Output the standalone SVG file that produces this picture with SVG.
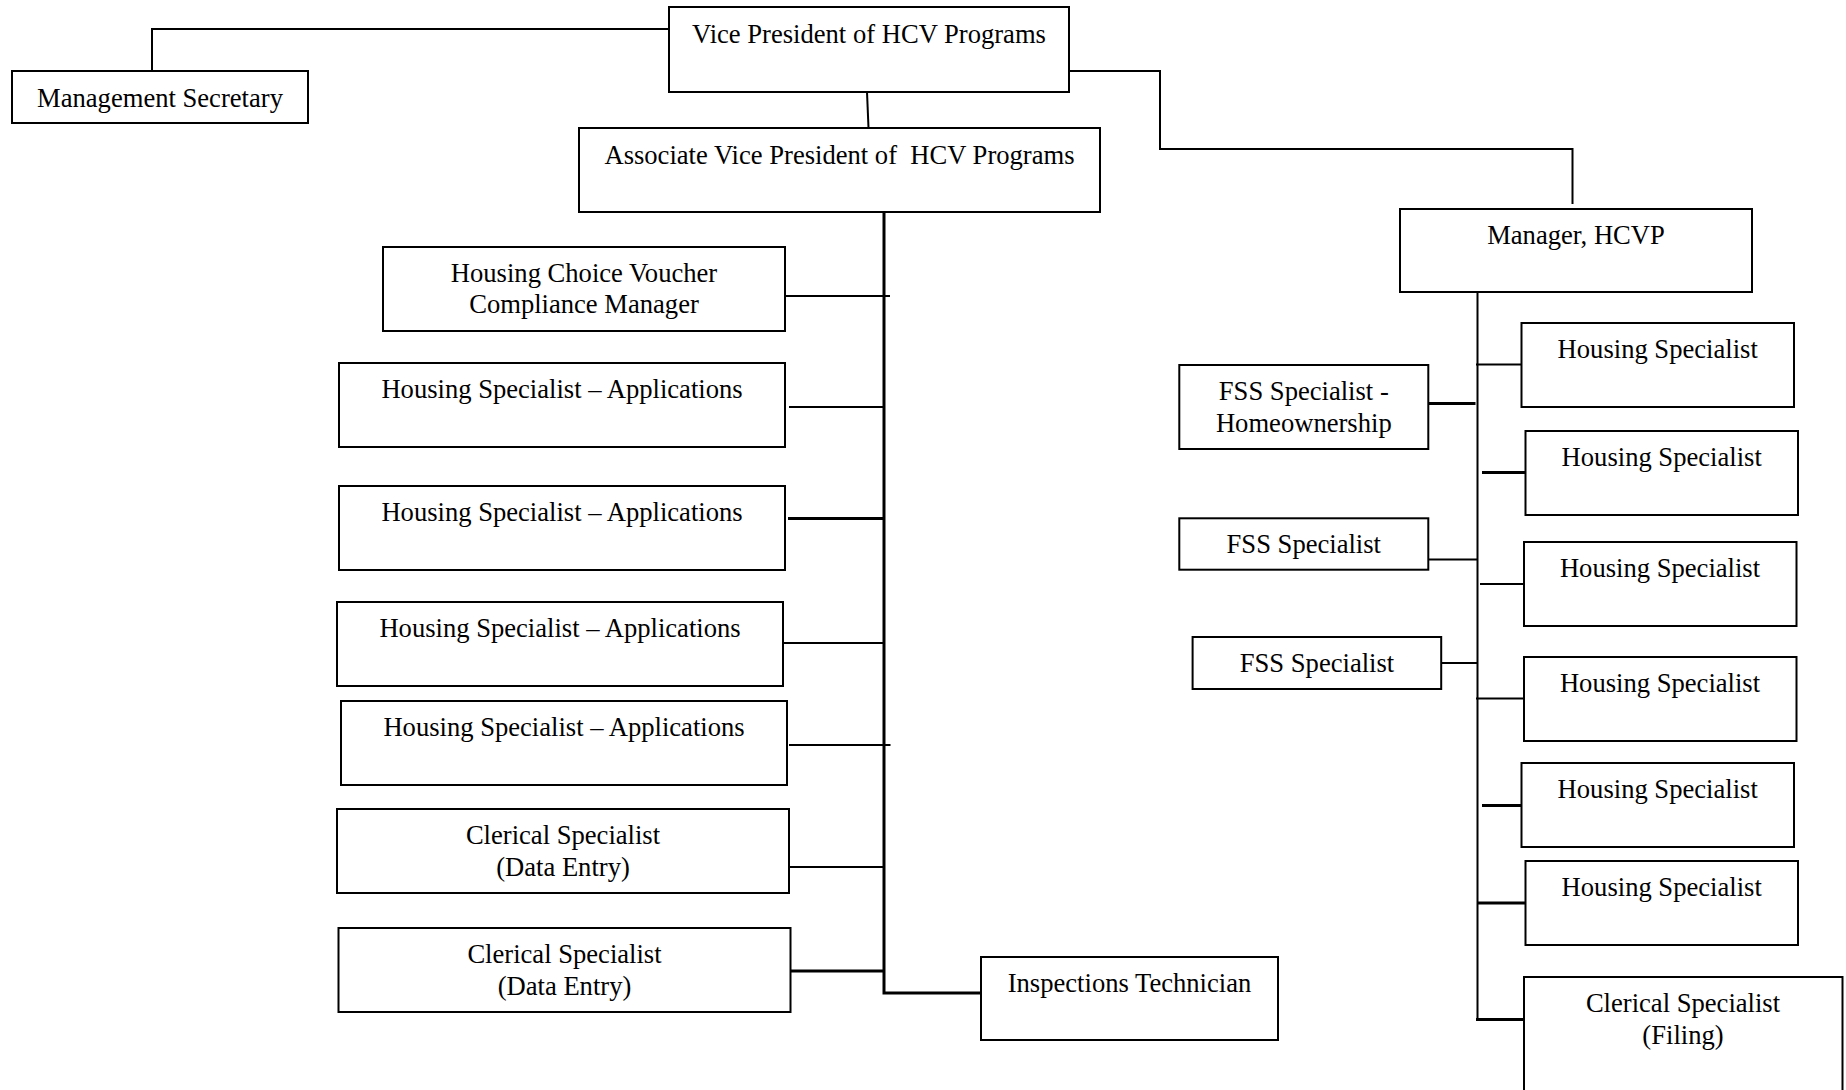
<svg xmlns="http://www.w3.org/2000/svg" width="1846" height="1090" viewBox="0 0 1846 1090">
  <style>
    .box { fill: #ffffff; stroke: #000000; stroke-width: 2; }
    .lbl { font-family: "Liberation Serif", "Times New Roman", serif; font-size: 26.6px; fill: #000000; text-anchor: middle; }
    .ln { fill: none; stroke: #000000; stroke-width: 2; }
    .thick { fill: none; stroke: #000000; stroke-width: 3; }
  </style>
  <rect x="0" y="0" width="1846" height="1090" fill="#ffffff"/>

  <!-- connectors -->
  <g id="connectors">
    <path class="ln" d="M152,71 V29 H669"/>
    <path class="ln" d="M867,92 L868.5,128"/>
    <path class="ln" d="M1069,71 H1160 V149 H1572.5 V204"/>
    <!-- associate VP trunk -->
    <path class="thick" d="M884,212 V993 H981"/>
    <path class="ln" d="M785,296 H890"/>
    <path class="ln" d="M789,407 H884"/>
    <path class="thick" d="M788,518.5 H884"/>
    <path class="ln" d="M783,643 H884"/>
    <path class="ln" d="M789,745 H890.5"/>
    <path class="ln" d="M789,867 H884"/>
    <path class="thick" d="M788,971 H884"/>
    <!-- manager trunk -->
    <path class="ln" d="M1477.5,292 V1020"/>
    <path class="ln" d="M1476,364.5 H1521.5"/>
    <path class="thick" d="M1428,403.5 H1475.5"/>
    <path class="thick" d="M1482,472.5 H1525.5"/>
    <path class="ln" d="M1428,559.5 H1477.5"/>
    <path class="ln" d="M1480,584 H1524"/>
    <path class="ln" d="M1441,663 H1477.5"/>
    <path class="ln" d="M1476,698.5 H1524"/>
    <path class="thick" d="M1482,805.5 H1521.5"/>
    <path class="thick" d="M1477.5,903 H1525.5"/>
    <path class="thick" d="M1476,1019.5 H1524"/>
  </g>

  <g id="mgmt-secretary">
    <rect class="box" x="12" y="71" width="296" height="52"/>
    <text class="lbl" x="160" y="107">Management Secretary</text>
  </g>
  <g id="vp">
    <rect class="box" x="669" y="7" width="400" height="85"/>
    <text class="lbl" x="869" y="43">Vice President of HCV Programs</text>
  </g>
  <g id="avp">
    <rect class="box" x="579" y="128" width="521" height="84"/>
    <text class="lbl" x="839.5" y="164" xml:space="preserve">Associate Vice President of  HCV Programs</text>
  </g>
  <g id="manager">
    <rect class="box" x="1400" y="209" width="352" height="83"/>
    <text class="lbl" x="1576" y="244">Manager, HCVP</text>
  </g>

  <g id="compliance-manager">
    <rect class="box" x="383" y="247" width="402" height="84"/>
    <text class="lbl" x="584" y="282">Housing Choice Voucher</text>
    <text class="lbl" x="584" y="313">Compliance Manager</text>
  </g>
  <g id="hs-app-1">
    <rect class="box" x="339" y="363" width="446" height="84"/>
    <text class="lbl" x="562" y="398">Housing Specialist – Applications</text>
  </g>
  <g id="hs-app-2">
    <rect class="box" x="339" y="486" width="446" height="84"/>
    <text class="lbl" x="562" y="521">Housing Specialist – Applications</text>
  </g>
  <g id="hs-app-3">
    <rect class="box" x="337" y="602" width="446" height="84"/>
    <text class="lbl" x="560" y="637">Housing Specialist – Applications</text>
  </g>
  <g id="hs-app-4">
    <rect class="box" x="341" y="701" width="446" height="84"/>
    <text class="lbl" x="564" y="736">Housing Specialist – Applications</text>
  </g>
  <g id="clerical-data-1">
    <rect class="box" x="337" y="809" width="452" height="84"/>
    <text class="lbl" x="563" y="844">Clerical Specialist</text>
    <text class="lbl" x="563" y="875.5">(Data Entry)</text>
  </g>
  <g id="clerical-data-2">
    <rect class="box" x="338.5" y="928" width="452" height="84"/>
    <text class="lbl" x="564.5" y="963">Clerical Specialist</text>
    <text class="lbl" x="564.5" y="995">(Data Entry)</text>
  </g>
  <g id="inspections">
    <rect class="box" x="981" y="957" width="297" height="83"/>
    <text class="lbl" x="1129.5" y="992">Inspections Technician</text>
  </g>

  <g id="fss-home">
    <rect class="box" x="1179.3" y="365" width="249" height="84"/>
    <text class="lbl" x="1303.8" y="400">FSS Specialist -</text>
    <text class="lbl" x="1303.8" y="432">Homeownership</text>
  </g>
  <g id="fss-1">
    <rect class="box" x="1179.3" y="518.3" width="249" height="51.4"/>
    <text class="lbl" x="1303.8" y="553">FSS Specialist</text>
  </g>
  <g id="fss-2">
    <rect class="box" x="1192.6" y="637" width="248.6" height="52"/>
    <text class="lbl" x="1317" y="672">FSS Specialist</text>
  </g>

  <g id="hs-1">
    <rect class="box" x="1521.5" y="323" width="272.5" height="84"/>
    <text class="lbl" x="1657.7" y="358">Housing Specialist</text>
  </g>
  <g id="hs-2">
    <rect class="box" x="1525.5" y="431" width="272.5" height="84"/>
    <text class="lbl" x="1661.7" y="466">Housing Specialist</text>
  </g>
  <g id="hs-3">
    <rect class="box" x="1524" y="542" width="272.5" height="84"/>
    <text class="lbl" x="1660" y="577">Housing Specialist</text>
  </g>
  <g id="hs-4">
    <rect class="box" x="1524" y="657" width="272.5" height="84"/>
    <text class="lbl" x="1660" y="692">Housing Specialist</text>
  </g>
  <g id="hs-5">
    <rect class="box" x="1521.5" y="763" width="272.5" height="84"/>
    <text class="lbl" x="1657.7" y="798">Housing Specialist</text>
  </g>
  <g id="hs-6">
    <rect class="box" x="1525.5" y="861" width="272.5" height="84"/>
    <text class="lbl" x="1661.7" y="896">Housing Specialist</text>
  </g>
  <g id="clerical-filing">
    <rect class="box" x="1524" y="977" width="318.5" height="130"/>
    <text class="lbl" x="1683" y="1012">Clerical Specialist</text>
    <text class="lbl" x="1683" y="1043.5">(Filing)</text>
  </g>
</svg>
